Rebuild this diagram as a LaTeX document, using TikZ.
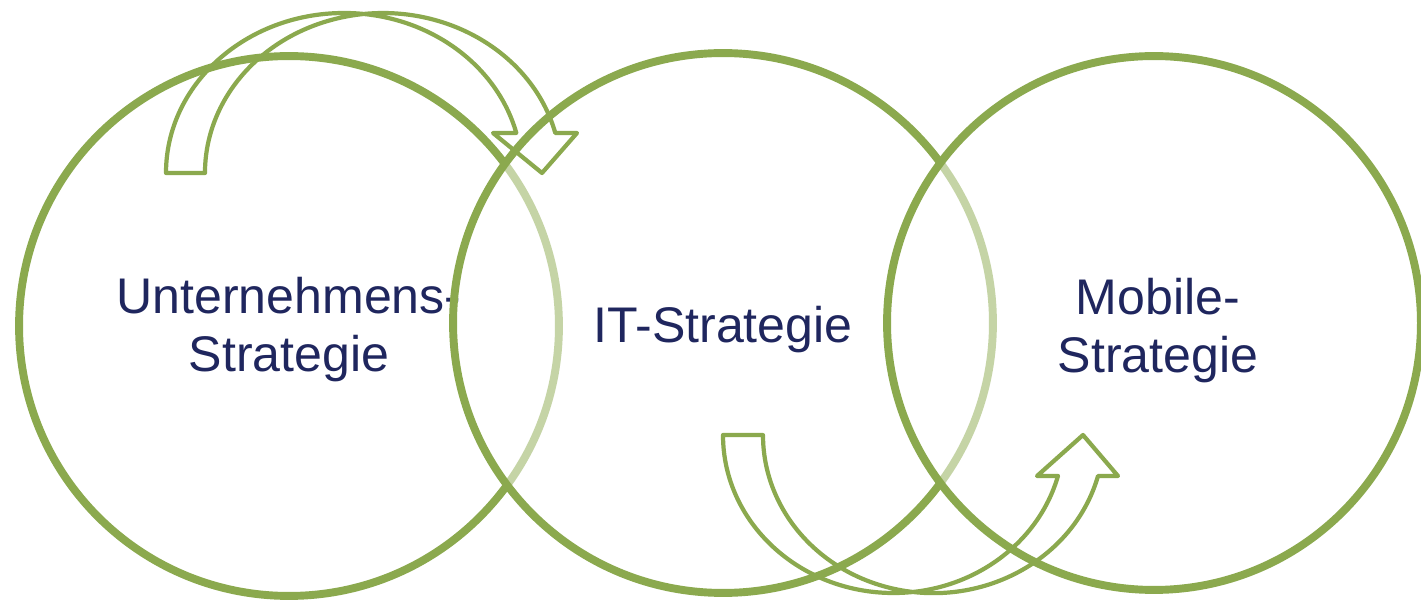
\documentclass[tikz,border=0pt]{standalone}
\usepackage{fontspec}
\setmainfont{Liberation Sans}
\definecolor{ringgreen}{RGB}{139,169,78}
\definecolor{textnavy}{RGB}{31,38,94}
\tikzset{
  ring/.style={circle, draw=ringgreen, line width=4.5pt, fill=white, fill opacity=0.5,
    minimum size=10.8cm, inner sep=0pt},
  ringtext/.style={text=textnavy, align=center, inner sep=0pt, font=\fontsize{28.5}{33}\selectfont},
  bendarrow/.style={draw=ringgreen, line width=2.4pt, line join=round}
}
\begin{document}
\begin{tikzpicture}[x=0.02cm,y=0.02cm]
\useasboundingbox (0,0) rectangle (1421,599);
\node[ring] (c1) at (289,273) {};
\node[ringtext] (ue) at ([yshift=-0.08cm]c1.center) {Unternehmens-\\Strategie};
\node[ring] (c2) at (723,276) {};
\node[ringtext] (it) at ([yshift=-0.13cm]c2.center) {IT-Strategie};
\node[ring, minimum size=10.68cm] (c3) at (1154,276) {};
\node[ringtext] (mob) at ([xshift=0.08cm,yshift=-0.16cm]c3.center) {Mobile-\\Strategie};
\draw[bendarrow] (166,426) arc[start angle=180, end angle=14.5, x radius=178, y radius=160]
  -- (493,466) -- (542,426) -- (577,466) -- (555.3,466)
  arc[start angle=14.5, end angle=180, x radius=178, y radius=160] -- cycle;
\draw[bendarrow] (723,164) arc[start angle=180, end angle=345, x radius=170.4, y radius=158]
  -- (1037,123) -- (1083,164) -- (1118,123) -- (1098,123)
  arc[start angle=345, end angle=180, x radius=170.4, y radius=158] -- cycle;
\end{tikzpicture}
\end{document}
